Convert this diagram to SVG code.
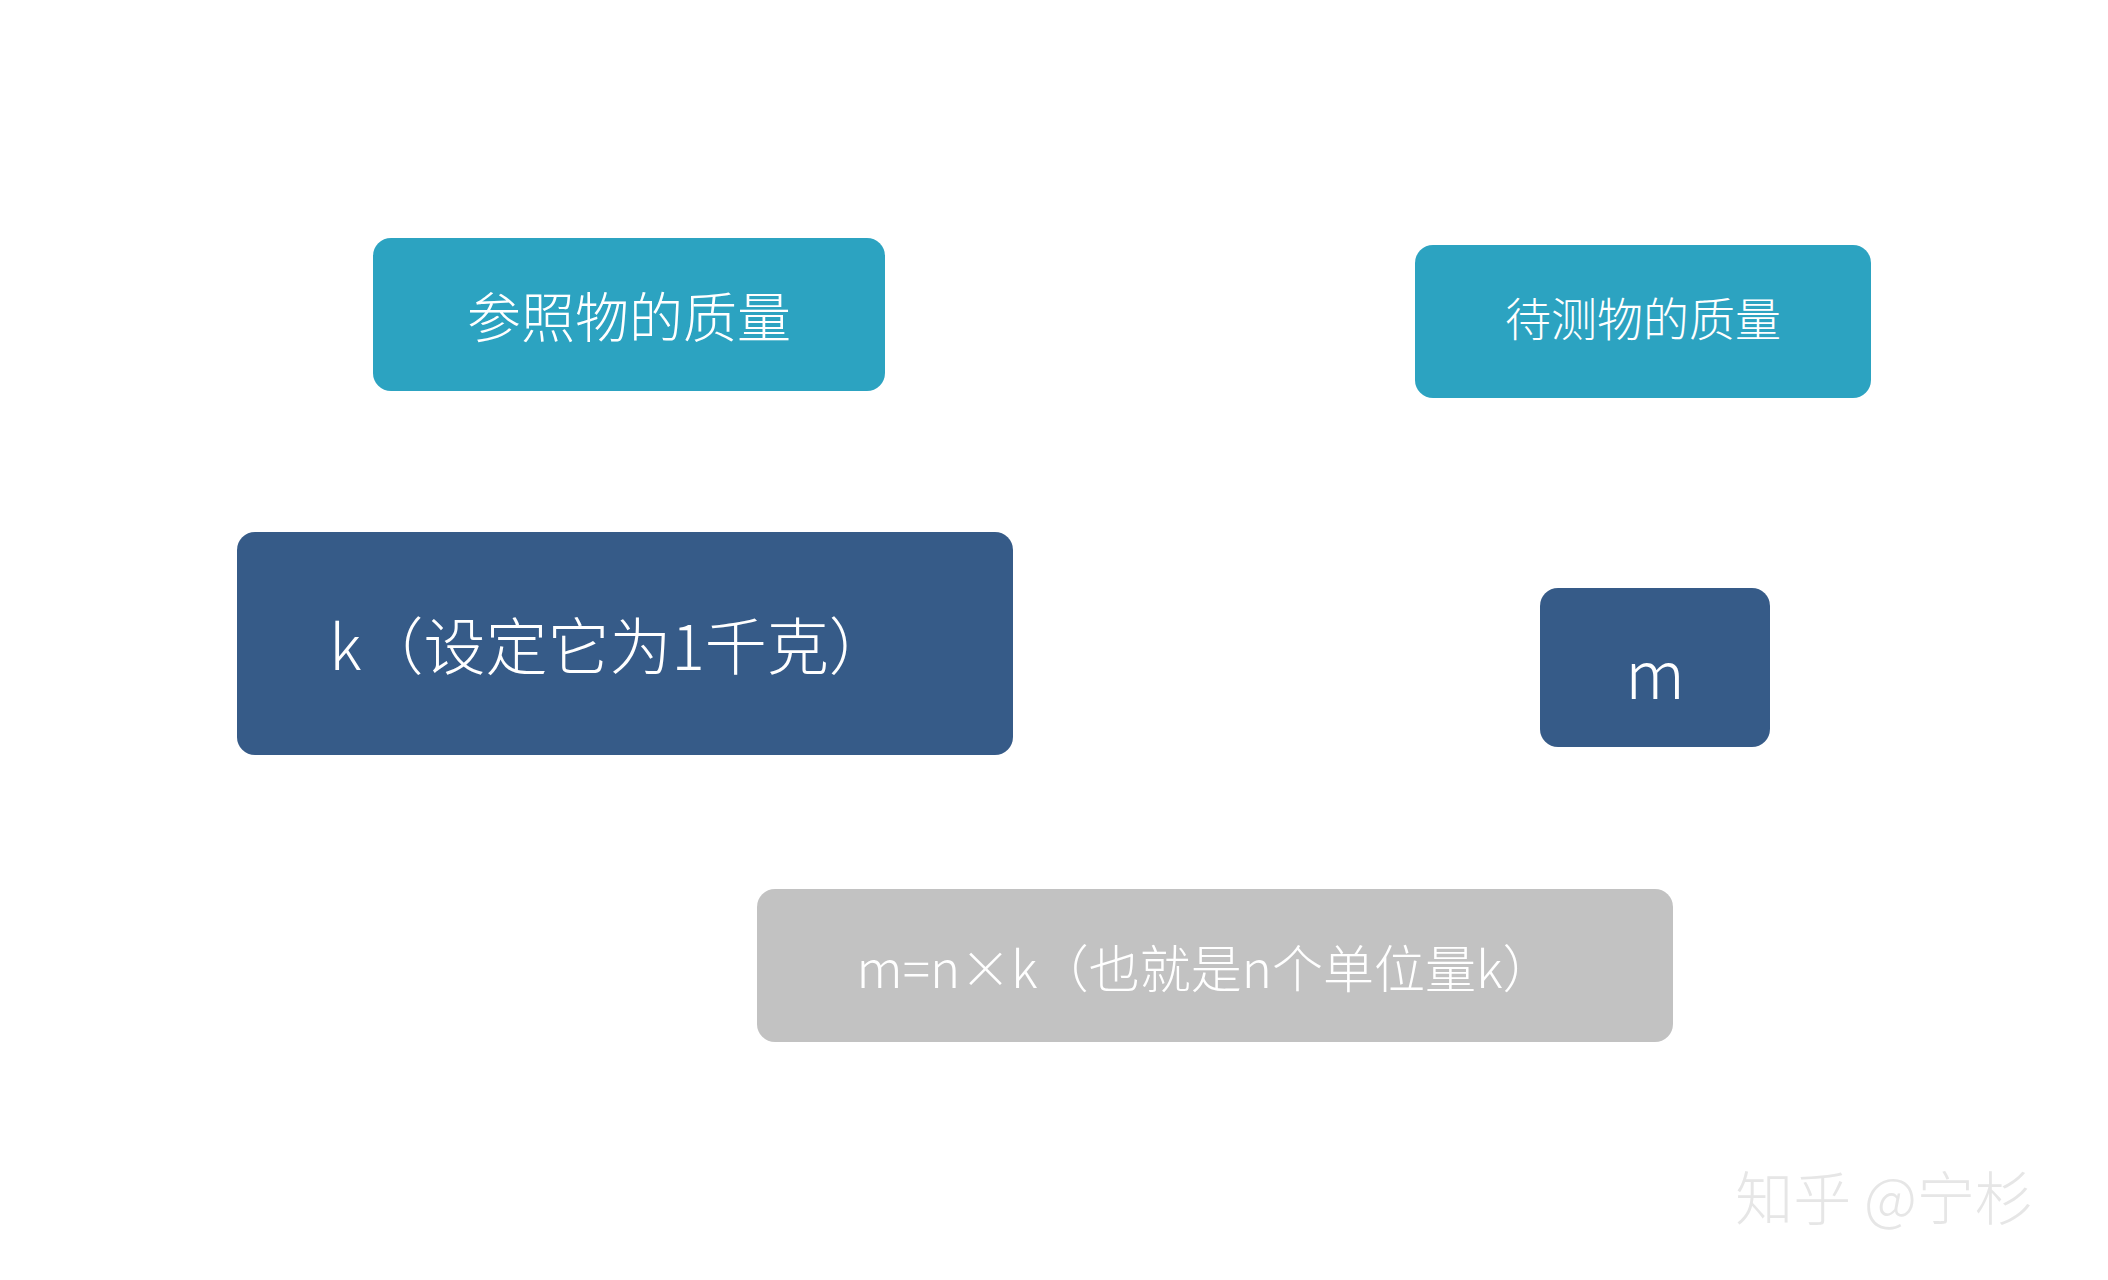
<svg xmlns="http://www.w3.org/2000/svg" width="2108" height="1280" viewBox="0 0 2108 1280">
<style>
.t{fill:#2ca3c1}.d{fill:#365b88}.g{fill:#c2c2c2}
text{font-family:"Noto Sans CJK SC","Noto Sans",sans-serif;font-weight:300;fill:#fff;text-anchor:middle;dominant-baseline:central}
</style>
<rect width="2108" height="1280" fill="#fff"/>
<g id="n1"><rect class="t" x="373" y="238" width="512" height="153" rx="18"/><text x="629" y="314" font-size="54">参照物的质量</text></g>
<g id="n2"><rect class="t" x="1415" y="245" width="456" height="153" rx="18"/><text x="1643" y="316" font-size="46">待测物的质量</text></g>
<g id="n3"><rect class="d" x="237" y="532" width="776" height="223" rx="18"/><text x="610" y="643" font-size="62">k（设定它为1千克）</text></g>
<g id="n4"><rect class="d" x="1540" y="588" width="230" height="159" rx="18"/><text x="1655" y="670" font-size="66">m</text></g>
<g id="n5"><rect class="g" x="757" y="889" width="916" height="153" rx="18"/><text x="1205" y="966" font-size="51">m=n×k（也就是n个单位量k）</text></g>
<g id="connectors"/>
<text x="1884" y="1195" font-size="58" style="fill:#e6e6e6">知乎 @宁杉</text>
</svg>
